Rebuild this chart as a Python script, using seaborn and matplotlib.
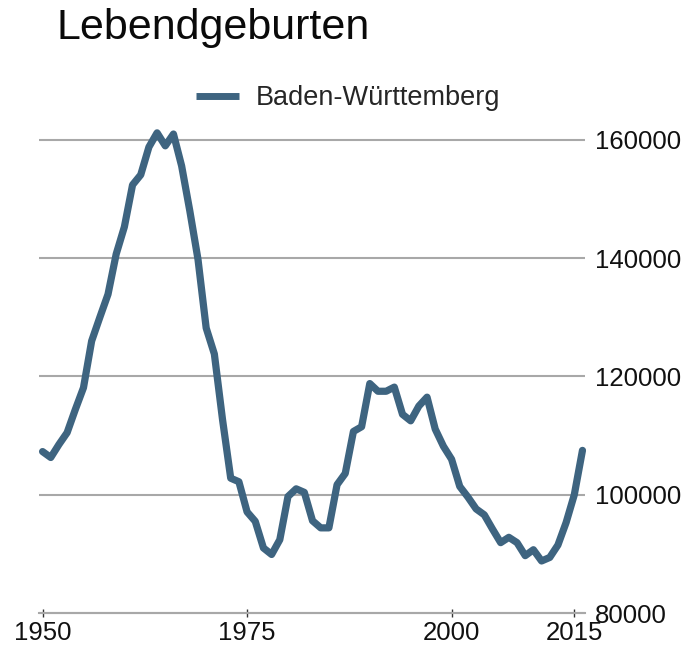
import numpy as np
import pandas as pd
import seaborn as sns
import matplotlib.pyplot as plt
from matplotlib.lines import Line2D
from matplotlib.ticker import StrMethodFormatter

# Lebendgeburten Baden-Württemberg, 1950-2016
years = list(range(1950, 2017))
births = [107300, 106300, 108500, 110500, 114400, 118100, 126000, 130000, 133900, 140700,
          145300, 152400, 154100, 158800, 161200, 159000, 161000, 155600, 148000, 139800,
          128200, 123800, 112700, 102800, 102200, 97100, 95500, 91000, 89900, 92400,
          99700, 101000, 100400, 95600, 94400, 94400, 101700, 103600, 110700, 111500,
          118800, 117500, 117500, 118200, 113600, 112500, 115000, 116500, 111100, 108200,
          106000, 101400, 99600, 97600, 96600, 94200, 91900, 92800, 91900, 89700,
          90700, 88800, 89400, 91500, 95300, 100000, 107500]
series_name = "Baden-Württemberg"
title = "Lebendgeburten"
x_ticks = [1950, 1975, 2000, 2015]
y_ticks = [80000, 100000, 120000, 140000, 160000]

line_col = "#3e6480"
grid_col = "#a8a8a8"

sns.set_style("white")
plt.rcParams['font.family'] = ['Liberation Sans', 'DejaVu Sans']

df = pd.DataFrame({"Jahr": years, "Lebendgeburten": births, "Land": series_name})

fig = plt.figure(figsize=(6.98, 6.5), dpi=100)
ax = fig.add_axes([0.0563, 0.0478, 0.7817, 0.7824])

sns.lineplot(data=df, x="Jahr", y="Lebendgeburten", hue="Land", palette=[line_col],
             linewidth=5.2, solid_capstyle='round', solid_joinstyle='round', ax=ax,
             zorder=3, clip_on=False)
if ax.get_legend() is not None:
    ax.get_legend().remove()

ax.set_xlim(1949.6, 2016.3)
ax.set_ylim(79000, 165000)
ax.set_xlabel("")
ax.set_ylabel("")

for s in ["top", "left", "right"]:
    ax.spines[s].set_visible(False)
ax.spines["bottom"].set_position(("data", 80000))
ax.spines["bottom"].set_color(grid_col)
ax.spines["bottom"].set_linewidth(1.5)

ax.set_yticks(y_ticks)
ax.yaxis.grid(True, color=grid_col, linewidth=1.5, zorder=1)
ax.xaxis.grid(False)
ax.yaxis.tick_right()
ax.yaxis.set_major_formatter(StrMethodFormatter("{x:.0f}"))
ax.tick_params(axis="y", length=0, pad=7, labelsize=18.5, labelcolor="#111111")

ax.set_xticks(x_ticks)
ax.tick_params(axis="x", direction="inout", length=6, width=1, color="#333333",
               pad=3, labelsize=18.5, labelcolor="#111111", bottom=True)

handles = [Line2D([], [], color=line_col, lw=5, solid_capstyle="butt")]
fig.legend(handles, [series_name], loc="center left", bbox_to_anchor=(196 / 698, 1 - 98 / 650),
           frameon=False, borderpad=0, borderaxespad=0, handlelength=1.6,
           handletextpad=0.6, fontsize=19.5)

fig.text(56 / 698, 1 - 39 / 650, title, fontsize=31, va="baseline", ha="left", color="#0a0a0a")

fig.savefig("out.png", dpi=100)
